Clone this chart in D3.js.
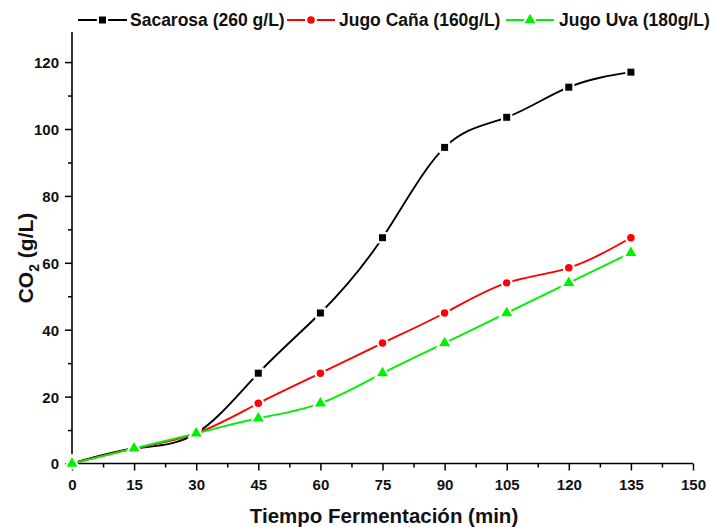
<!DOCTYPE html>
<html><head><meta charset="utf-8">
<script src="https://cdn.jsdelivr.net/npm/d3@7"></script>
<style>
body{margin:0;background:#fff;}
svg{display:block;font-family:"Liberation Sans",Arial,sans-serif;font-weight:bold;}
</style></head>
<body><svg id="c" width="710" height="527"></svg>
<script>
const times = [0,15,30,45,60,75,90,105,120,135];
const sacarosa = [0,4.5,9,27,45,67.5,94.5,103.5,112.5,117];
const jugoCana = [0,4.5,9,18,27,36,45,54,58.5,67.5];
const jugoUva = [0,4.5,9,13.5,18,27,36,45,54,63];
const seriesNames = ["Sacarosa (260 g/L)","Jugo Caña (160g/L)","Jugo Uva (180g/L)"];
const xTicks = [0,15,30,45,60,75,90,105,120,135,150];
const yTicks = [0,20,40,60,80,100,120];

const series = [
  {name:seriesNames[0], values:sacarosa, color:"#000000", shape:d3.symbolSquare, size:49},
  {name:seriesNames[1], values:jugoCana, color:"#ff0000", shape:d3.symbolCircle, size:44},
  {name:seriesNames[2], values:jugoUva, color:"#00f000", shape:d3.symbolTriangle, size:52}
];

const svg = d3.select("#c");
const x = d3.scaleLinear().domain([0,150]).range([72,693]);
const y = d3.scaleLinear().domain([0,129]).range([463.5,32]);

// axes
const xAxis = d3.axisBottom(x).tickValues(xTicks).tickSize(7).tickPadding(9).tickFormat(d3.format("d"));
const xMinor = d3.axisBottom(x).tickValues(d3.range(7.5,150,15)).tickSize(4).tickFormat("");
const yAxis = d3.axisLeft(y).tickValues(yTicks).tickSize(7).tickPadding(6).tickFormat(d3.format("d"));
const yMinor = d3.axisLeft(y).tickValues(d3.range(10,129,20)).tickSize(4).tickFormat("");

function styleAxis(g){
  g.select(".domain").attr("stroke","#000").attr("stroke-width",1.6);
  g.selectAll(".tick line").attr("stroke","#000").attr("stroke-width",1.5);
  g.selectAll("text").attr("font-size",15).attr("font-weight","bold").attr("fill","#111")
    .attr("font-family","'Liberation Sans',Arial,sans-serif");
}
const gx = svg.append("g").attr("transform",`translate(0,${y(0)})`).call(xAxis).call(styleAxis);
gx.selectAll(".domain").attr("d",`M${x(0)},0H${x(150)}`);
svg.append("g").attr("transform",`translate(0,${y(0)})`).call(xMinor).call(styleAxis).select(".domain").remove();
const gy = svg.append("g").attr("transform",`translate(${x(0)},0)`).call(yAxis).call(styleAxis);
gy.selectAll(".domain").attr("d",`M0,${y(0)}V${y(129)}`);
svg.append("g").attr("transform",`translate(${x(0)},0)`).call(yMinor).call(styleAxis).select(".domain").remove();
gy.selectAll(".tick text").attr("dy","0.36em");

// titles
svg.append("text").attr("x",384).attr("y",523).attr("text-anchor","middle")
  .attr("font-size",20.5).attr("fill","#111").text("Tiempo Fermentación (min)");
const yt = svg.append("text").attr("transform","translate(33,258) rotate(-90)")
  .attr("text-anchor","middle").attr("font-size",21).attr("fill","#111");
yt.append("tspan").text("CO");
yt.append("tspan").attr("font-size",14).attr("dy",6).text("2");
yt.append("tspan").attr("dy",-6).text(" (g/L)");

// plot
const line = d3.line().x((d,i)=>x(times[i])).y(d=>y(d)).curve(d3.curveNatural);
series.forEach(s=>{
  const g = svg.append("g");
  g.append("path").attr("d",line(s.values)).attr("fill","none")
    .attr("stroke",s.color).attr("stroke-width",1.9);
  const sym = d3.symbol().type(s.shape);
  g.selectAll(".halo").data(s.values).join("path")
    .attr("transform",(d,i)=>`translate(${x(times[i])},${y(d)})`)
    .attr("d",sym.size(s.size*2.6)()).attr("fill","#fff");
  g.selectAll(".mk").data(s.values).join("path")
    .attr("transform",(d,i)=>`translate(${x(times[i])},${y(d)})`)
    .attr("d",sym.size(s.size)()).attr("fill",s.color);
});

// legend
const legendX = [[78,127,130],[287,335,339],[506,554,559]];
series.forEach((s,k)=>{
  const [x0,x1,tx] = legendX[k];
  const g = svg.append("g");
  const ly = 20, mx = (x0+x1)/2;
  g.append("line").attr("x1",x0).attr("x2",x1).attr("y1",ly).attr("y2",ly)
    .attr("stroke",s.color).attr("stroke-width",1.9);
  const sym = d3.symbol().type(s.shape);
  g.append("path").attr("transform",`translate(${mx},${ly})`).attr("d",sym.size(s.size*2.6)()).attr("fill","#fff");
  g.append("path").attr("transform",`translate(${mx},${ly})`).attr("d",sym.size(s.size)()).attr("fill",s.color);
  g.append("text").attr("x",tx).attr("y",26).attr("font-size",17.5).attr("fill","#111").text(s.name);
});
</script></body></html>
